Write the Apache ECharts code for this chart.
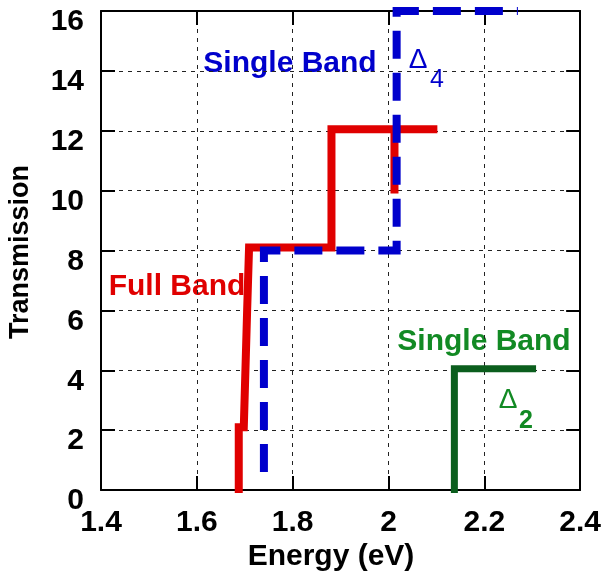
<!DOCTYPE html>
<html>
<head>
<meta charset="utf-8">
<script src="https://cdn.jsdelivr.net/npm/echarts@6/dist/echarts.min.js"></script>
<style>
html, body { margin: 0; padding: 0; background: #fff; }
#main { width: 604px; height: 575px; }
</style>
</head>
<body>
<div id="main"></div>
<script>
// energy (eV), transmission
var fullBand = [
    [1.6875, -0.1], [1.6875, 2.1], [1.698, 2.1], [1.705, 6.0], [1.709, 6.0],
    [1.709, 8.1], [1.881, 8.1], [1.881, 12.05], [2.0125, 12.05],
    [2.0125, 9.9], [2.0125, 12.05], [2.102, 12.05]
];
var singleBand4 = [
    [1.74, 0.6], [1.74, 8.0], [2.017, 8.0], [2.017, 16.0], [2.27, 16.0]
];
var singleBand2 = [
    [2.1375, -0.1], [2.1375, 4.05], [2.308, 4.05]
];
var xTicks = { min: 1.4, max: 2.4, interval: 0.2 };
var yTicks = { min: 0, max: 16, interval: 2 };

var FONT = '"Liberation Sans", Arial, sans-serif';
var RED = '#e00000';
var BLUE = '#0000cc';
var GREEN_LINE = '#0b5e1d';
var GREEN_TEXT = '#128a24';

var chartDom = document.getElementById('main');
var myChart = echarts.init(chartDom, null, { renderer: 'canvas' });

var gridDash = { show: true, lineStyle: { color: '#222', width: 1, type: [4, 5] } };

function axisBase(pos, t, show) {
    return {
        type: 'value',
        position: pos,
        min: t.min,
        max: t.max,
        interval: t.interval,
        axisLine: { show: true, onZero: false, lineStyle: { color: '#000', width: 2 } },
        axisTick: { show: true, inside: true, length: 14, lineStyle: { color: '#000', width: 2 } },
        splitLine: show ? gridDash : { show: false },
        axisLabel: { show: false }
    };
}

var xMain = axisBase('bottom', xTicks, true);
xMain.axisLabel = {
    show: true, margin: 18, color: '#000', fontSize: 30, fontWeight: 'bold', fontFamily: FONT,
    formatter: function (v) { return String(+v.toFixed(1)); }
};
var yMain = axisBase('left', yTicks, true);
yMain.axisLabel = {
    show: true, margin: 17, color: '#000', fontSize: 30, fontWeight: 'bold', fontFamily: FONT,
    verticalAlign: 'top', lineHeight: 22
};

var option = {
    animation: false,
    grid: { left: 101, right: 23, top: 11, bottom: 85 },
    xAxis: [xMain, axisBase('top', xTicks, false)],
    yAxis: [yMain, axisBase('right', yTicks, false)],
    series: [
        {
            type: 'line', data: fullBand, clip: false, symbol: 'none',
            lineStyle: { color: RED, width: 8, join: 'miter', cap: 'butt' }
        },
        {
            type: 'line', data: singleBand4, clip: false, symbol: 'none',
            lineStyle: { color: BLUE, width: 8, type: [28, 14], join: 'miter', cap: 'butt' }
        },
        {
            type: 'line', data: singleBand2, clip: false, symbol: 'none',
            lineStyle: { color: GREEN_LINE, width: 7, join: 'miter', cap: 'butt' }
        }
    ],
    graphic: [
        { type: 'text', x: 331, y: 557, style: { text: 'Energy (eV)', fill: '#000', font: 'bold 30px ' + FONT, align: 'center', verticalAlign: 'middle' } },
        { type: 'text', x: 21, y: 252, rotation: Math.PI / 2, style: { text: 'Transmission', fill: '#000', font: 'bold 27px ' + FONT, align: 'center', verticalAlign: 'middle' } },
        { type: 'text', x: 290, y: 64, style: { text: 'Single Band', fill: BLUE, font: 'bold 30px ' + FONT, align: 'center', verticalAlign: 'middle' } },
        { type: 'text', x: 418, y: 60, style: { text: '\u0394', fill: BLUE, font: '28px ' + FONT, align: 'center', verticalAlign: 'middle' } },
        { type: 'text', x: 437, y: 80, style: { text: '4', fill: BLUE, font: '25px ' + FONT, align: 'center', verticalAlign: 'middle' } },
        { type: 'text', x: 177, y: 287, style: { text: 'Full Band', fill: RED, font: 'bold 30px ' + FONT, align: 'center', verticalAlign: 'middle' } },
        { type: 'text', x: 484, y: 342, style: { text: 'Single Band', fill: GREEN_TEXT, font: 'bold 30px ' + FONT, align: 'center', verticalAlign: 'middle' } },
        { type: 'text', x: 508, y: 400, style: { text: '\u0394', fill: GREEN_TEXT, font: '28px ' + FONT, align: 'center', verticalAlign: 'middle' } },
        { type: 'text', x: 526, y: 421, style: { text: '2', fill: GREEN_TEXT, font: 'bold 25px ' + FONT, align: 'center', verticalAlign: 'middle' } }
    ]
};

option && myChart.setOption(option);
</script>
</body>
</html>
